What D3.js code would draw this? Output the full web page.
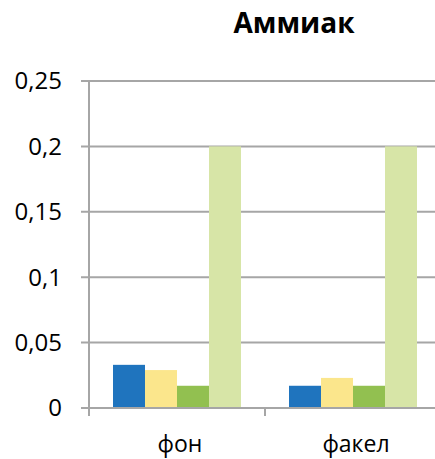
<!DOCTYPE html>
<html>
<head>
<meta charset="utf-8">
<script src="https://cdn.jsdelivr.net/npm/d3@7"></script>
<style>
body { margin: 0; background: #fff; }
text { font-family: "Open Sans", sans-serif; }
</style>
</head>
<body>
<div id="chart-area"></div>
<script>
var categories = ["фон", "факел"];
var seriesNames = ["s1", "s2", "s3", "s4"];
var s1 = [0.033, 0.017];
var s2 = [0.029, 0.023];
var s3 = [0.017, 0.017];
var s4 = [0.2, 0.2];
var yTicks = [0, 0.05, 0.1, 0.15, 0.2, 0.25];
var yTickLabels = ["0", "0,05", "0,1", "0,15", "0,2", "0,25"];
var colors = ["#1f74be", "#fbe68c", "#92c050", "#d7e5a7"];

var width = 435, height = 459;
var margin = {top: 81, left: 89, bottom: 51};
var plotW = 352;
var plotH = height - margin.top - margin.bottom;

var svg = d3.select("#chart-area").append("svg")
	.attr("width", width)
	.attr("height", height);

var group = svg.append("g")
	.attr("transform", "translate(" + margin.left + "," + margin.top + ")");

var x = d3.scaleBand()
	.domain(categories)
	.range([0, plotW]);

var xInner = d3.scaleBand()
	.domain(seriesNames)
	.range([0, x.bandwidth()])
	.paddingOuter(0.75);

var y = d3.scaleLinear()
	.domain([0, 0.25])
	.range([plotH, 0]);

// grid
group.selectAll(".grid").data(yTicks).enter()
	.append("line")
	.attr("x1", -8)
	.attr("x2", plotW)
	.attr("y1", (d) => y(d))
	.attr("y2", (d) => y(d))
	.attr("stroke", "#a6a6a6")
	.attr("stroke-width", 2);

var data = categories.map((c, i) => ({cat: c, vals: [s1[i], s2[i], s3[i], s4[i]]}));

var cats = group.selectAll(".cat").data(data).enter()
	.append("g")
	.attr("transform", (d) => "translate(" + x(d.cat) + ",0)");

cats.selectAll("rect")
	.data((d) => d.vals.map((v, j) => ({key: seriesNames[j], v: v, j: j})))
	.enter().append("rect")
	.attr("x", (d) => xInner(d.key))
	.attr("width", xInner.bandwidth())
	.attr("y", (d) => y(d.v))
	.attr("height", (d) => y(0) - y(d.v))
	.attr("fill", (d) => colors[d.j]);

// axes lines
group.append("line")
	.attr("x1", 0).attr("x2", 0)
	.attr("y1", 0).attr("y2", plotH)
	.attr("stroke", "#a6a6a6").attr("stroke-width", 2);

group.append("line")
	.attr("x1", 0).attr("x2", plotW)
	.attr("y1", plotH).attr("y2", plotH)
	.attr("stroke", "#a6a6a6").attr("stroke-width", 2);

// category ticks
group.selectAll(".xtick").data([0, x.bandwidth(), plotW]).enter()
	.append("line")
	.attr("x1", (d) => d).attr("x2", (d) => d)
	.attr("y1", plotH).attr("y2", plotH + 8)
	.attr("stroke", "#a6a6a6").attr("stroke-width", 2);

// y labels
group.selectAll(".ylab").data(yTicks).enter()
	.append("text")
	.attr("x", -27)
	.attr("y", (d) => y(d))
	.attr("dy", "0.35em")
	.attr("text-anchor", "end")
	.attr("font-size", "24px")
	.attr("fill", "#000")
	.text((d, i) => yTickLabels[i]);

// x labels
group.selectAll(".xlab").data(categories).enter()
	.append("text")
	.attr("x", (d) => x(d) + x.bandwidth() / 2 + 3)
	.attr("y", plotH + 44)
	.attr("text-anchor", "middle")
	.attr("font-size", "23px")
	.attr("fill", "#000")
	.text((d) => d);

svg.append("text")
	.attr("x", 294)
	.attr("y", 33)
	.attr("text-anchor", "middle")
	.attr("font-size", "28px")
	.attr("font-weight", "bold")
	.text("Аммиак");
</script>
</body>
</html>
